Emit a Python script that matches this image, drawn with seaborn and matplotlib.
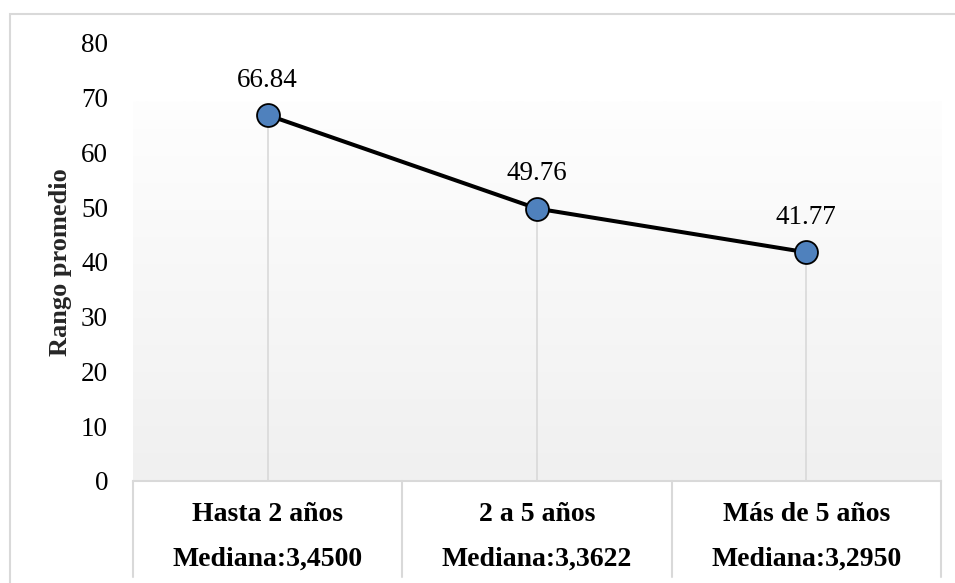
import numpy as np
import pandas as pd
import matplotlib
matplotlib.use("Agg")
import matplotlib.pyplot as plt
import matplotlib.patches as mpatches
import matplotlib.transforms as mtransforms
from matplotlib.colors import LinearSegmentedColormap
import seaborn as sns

categorias = ["Hasta 2 años", "2 a 5 años", "Más de 5 años"]
medianas = ["3,4500", "3,3622", "3,2950"]
rango_promedio = [66.84, 49.76, 41.77]
yticks = [0, 10, 20, 30, 40, 50, 60, 70, 80]

sns.set_theme(style="white")
plt.rcParams["font.family"] = ["Liberation Serif", "DejaVu Serif"]

W, H = 955, 583
fig = plt.figure(figsize=(W / 100, H / 100), dpi=100)
ax_left, ax_right = 133, 941
ax_top, ax_bottom = 43, 481
ax = fig.add_axes([ax_left / W, 1 - ax_bottom / H, (ax_right - ax_left) / W, (ax_bottom - ax_top) / H])

df = pd.DataFrame({"grupo": categorias, "rango": rango_promedio})
pos = np.arange(len(categorias))

# gradient plot area
cmap = LinearSegmentedColormap.from_list("g", ["#f0f0f0", "#fefefe"])
grad = np.linspace(0, 1, 256).reshape(-1, 1)
ax.imshow(grad, extent=(-0.5, 2.5, 0, 69.3), origin="lower", aspect="auto", cmap=cmap, zorder=0)

# drop lines
ax.vlines(pos, 0, rango_promedio, color="#d9d9d9", lw=1.2, zorder=1)

sns.lineplot(data=df, x="grupo", y="rango", ax=ax, color="black", lw=2.9, marker="o",
             markersize=16.5, markerfacecolor="#4f81bd", markeredgecolor="black",
             markeredgewidth=1.3, zorder=3, sort=False)

for x, v in zip(pos, rango_promedio):
    ax.annotate(f"{v:.2f}", (x, v), xytext=(0, 25), textcoords="offset points",
                ha="center", va="center", fontsize=19.5, color="black")

ax.set_xlim(-0.5, 2.5)
ax.set_ylim(0, 80)
ax.set_yticks(yticks)
ax.set_yticklabels([str(t) for t in yticks], fontsize=19.5, color="black")
ax.tick_params(axis="y", length=0, pad=18)
ax.set_xticks(pos)
ax.set_xticklabels([f"{c}\nMediana:{m}" for c, m in zip(categorias, medianas)],
                   fontsize=20, fontweight="bold", linespacing=2.05, color="black")
ax.tick_params(axis="x", length=0, pad=15)
ax.set_xlabel("")
ax.set_ylabel("Rango promedio", fontsize=19, fontweight="bold")
ax.yaxis.set_label_coords(-61 / (ax_right - ax_left), 0.5)

for s in ["top", "right", "left"]:
    ax.spines[s].set_visible(False)
ax.spines["bottom"].set_color("#d9d9d9")
ax.spines["bottom"].set_linewidth(1.5)

# table cell vertical lines
trans = mtransforms.blended_transform_factory(ax.transData, ax.transAxes)
depth = -(577 - ax_bottom) / (ax_bottom - ax_top)
for xb in [-0.5, 0.5, 1.5, 2.5]:
    ax.plot([xb, xb], [0, depth], transform=trans, color="#d9d9d9", lw=1.5, clip_on=False, zorder=1)

# outer chart border
fig.patches.append(mpatches.Rectangle((10 / W, -0.1), 2, 1 - 14 / H + 0.1, transform=fig.transFigure,
                                      fill=False, edgecolor="#d9d9d9", lw=1.5))

fig.savefig("out.png", dpi=100)
